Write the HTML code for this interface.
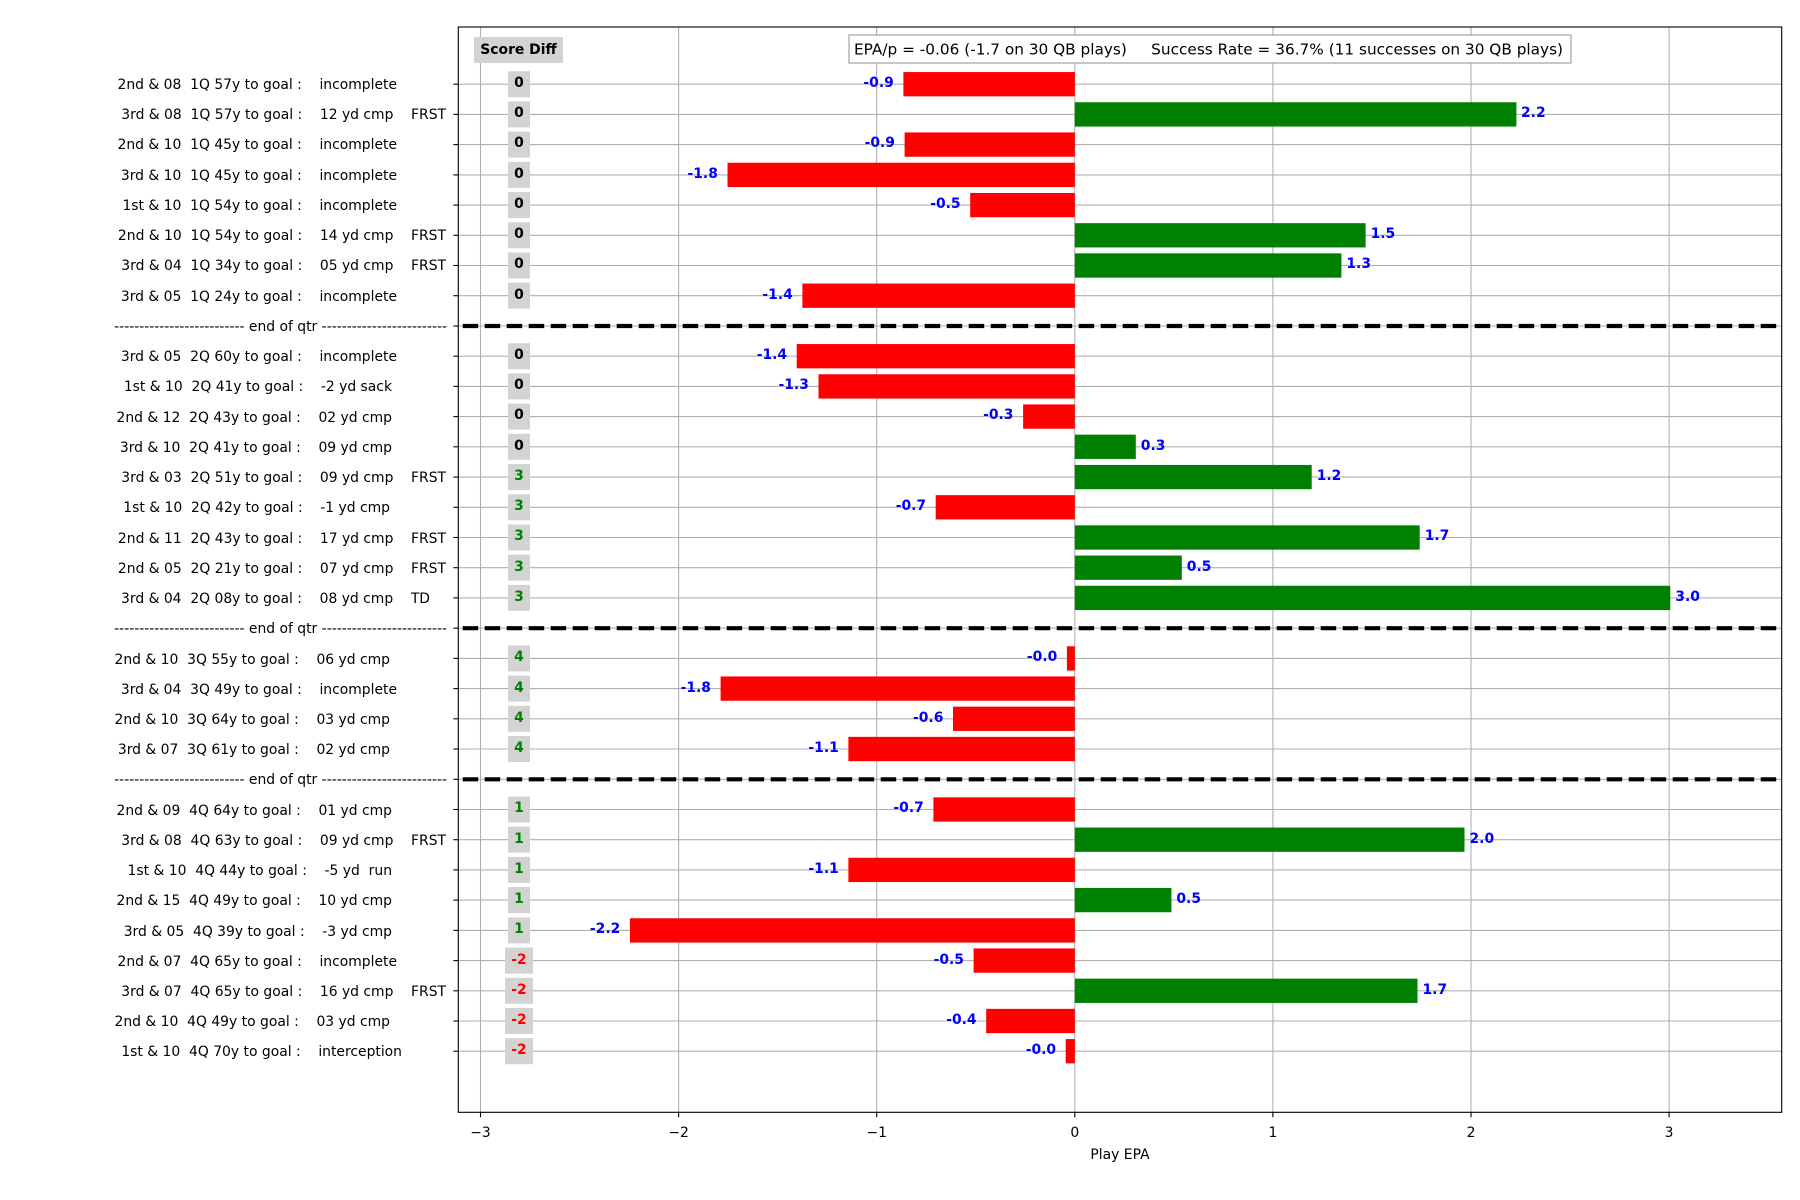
<!DOCTYPE html>
<html><head><meta charset="utf-8"><style>
html,body{margin:0;padding:0;background:#fff;}
svg{display:block;font-family:"DejaVu Sans","Liberation Sans",sans-serif;font-size:13.9px;}
text{white-space:pre;}
.yl{text-anchor:end;dominant-baseline:central;fill:#000;}
.v{font-weight:bold;fill:#0000ff;dominant-baseline:central;}
.sd{font-weight:bold;text-anchor:middle;dominant-baseline:central;}
</style></head><body>
<svg width="1800" height="1200" viewBox="0 0 1800 1200" xmlns="http://www.w3.org/2000/svg">
<rect width="1800" height="1200" fill="#fff"/>
<g stroke="#b0b0b0" stroke-width="1.1">
<line x1="480.5" y1="27" x2="480.5" y2="1112"/><line x1="678.6" y1="27" x2="678.6" y2="1112"/><line x1="876.7" y1="27" x2="876.7" y2="1112"/><line x1="1074.8" y1="27" x2="1074.8" y2="1112"/><line x1="1272.9" y1="27" x2="1272.9" y2="1112"/><line x1="1471" y1="27" x2="1471" y2="1112"/><line x1="1669.1" y1="27" x2="1669.1" y2="1112"/>
<line x1="458" x2="1782" y1="84.2" y2="84.2"/><line x1="458" x2="1782" y1="114.4" y2="114.4"/><line x1="458" x2="1782" y1="144.6" y2="144.6"/><line x1="458" x2="1782" y1="174.9" y2="174.9"/><line x1="458" x2="1782" y1="205.1" y2="205.1"/><line x1="458" x2="1782" y1="235.3" y2="235.3"/><line x1="458" x2="1782" y1="265.5" y2="265.5"/><line x1="458" x2="1782" y1="295.7" y2="295.7"/><line x1="458" x2="1782" y1="326" y2="326"/><line x1="458" x2="1782" y1="356.2" y2="356.2"/><line x1="458" x2="1782" y1="386.4" y2="386.4"/><line x1="458" x2="1782" y1="416.6" y2="416.6"/><line x1="458" x2="1782" y1="446.8" y2="446.8"/><line x1="458" x2="1782" y1="477.1" y2="477.1"/><line x1="458" x2="1782" y1="507.3" y2="507.3"/><line x1="458" x2="1782" y1="537.5" y2="537.5"/><line x1="458" x2="1782" y1="567.7" y2="567.7"/><line x1="458" x2="1782" y1="597.9" y2="597.9"/><line x1="458" x2="1782" y1="628.2" y2="628.2"/><line x1="458" x2="1782" y1="658.4" y2="658.4"/><line x1="458" x2="1782" y1="688.6" y2="688.6"/><line x1="458" x2="1782" y1="718.8" y2="718.8"/><line x1="458" x2="1782" y1="749" y2="749"/><line x1="458" x2="1782" y1="779.3" y2="779.3"/><line x1="458" x2="1782" y1="809.5" y2="809.5"/><line x1="458" x2="1782" y1="839.7" y2="839.7"/><line x1="458" x2="1782" y1="869.9" y2="869.9"/><line x1="458" x2="1782" y1="900.1" y2="900.1"/><line x1="458" x2="1782" y1="930.4" y2="930.4"/><line x1="458" x2="1782" y1="960.6" y2="960.6"/><line x1="458" x2="1782" y1="990.8" y2="990.8"/><line x1="458" x2="1782" y1="1021" y2="1021"/><line x1="458" x2="1782" y1="1051.2" y2="1051.2"/>
</g>
<g>
<rect x="903.4" y="72.05" width="171.4" height="24.3" fill="#ff0000"/>
<rect x="1074.8" y="102.25" width="441.6" height="24.3" fill="#008000"/>
<rect x="904.6" y="132.45" width="170.2" height="24.3" fill="#ff0000"/>
<rect x="727.5" y="162.75" width="347.3" height="24.3" fill="#ff0000"/>
<rect x="970.2" y="192.95" width="104.6" height="24.3" fill="#ff0000"/>
<rect x="1074.8" y="223.15" width="290.8" height="24.3" fill="#008000"/>
<rect x="1074.8" y="253.35" width="266.6" height="24.3" fill="#008000"/>
<rect x="802.4" y="283.55" width="272.4" height="24.3" fill="#ff0000"/>
<rect x="796.7" y="344.05" width="278.1" height="24.3" fill="#ff0000"/>
<rect x="818.5" y="374.25" width="256.3" height="24.3" fill="#ff0000"/>
<rect x="1023.1" y="404.45" width="51.7" height="24.3" fill="#ff0000"/>
<rect x="1074.8" y="434.65" width="61" height="24.3" fill="#008000"/>
<rect x="1074.8" y="464.95" width="236.9" height="24.3" fill="#008000"/>
<rect x="935.7" y="495.15" width="139.1" height="24.3" fill="#ff0000"/>
<rect x="1074.8" y="525.35" width="344.9" height="24.3" fill="#008000"/>
<rect x="1074.8" y="555.55" width="107" height="24.3" fill="#008000"/>
<rect x="1074.8" y="585.75" width="595.5" height="24.3" fill="#008000"/>
<rect x="1066.9" y="646.25" width="7.9" height="24.3" fill="#ff0000"/>
<rect x="720.6" y="676.45" width="354.2" height="24.3" fill="#ff0000"/>
<rect x="953" y="706.65" width="121.8" height="24.3" fill="#ff0000"/>
<rect x="848.4" y="736.85" width="226.4" height="24.3" fill="#ff0000"/>
<rect x="933.4" y="797.35" width="141.4" height="24.3" fill="#ff0000"/>
<rect x="1074.8" y="827.55" width="389.7" height="24.3" fill="#008000"/>
<rect x="848.4" y="857.75" width="226.4" height="24.3" fill="#ff0000"/>
<rect x="1074.8" y="887.95" width="96.6" height="24.3" fill="#008000"/>
<rect x="629.9" y="918.25" width="444.9" height="24.3" fill="#ff0000"/>
<rect x="973.6" y="948.45" width="101.2" height="24.3" fill="#ff0000"/>
<rect x="1074.8" y="978.65" width="342.7" height="24.3" fill="#008000"/>
<rect x="986.2" y="1008.85" width="88.6" height="24.3" fill="#ff0000"/>
<rect x="1065.7" y="1039.05" width="9.1" height="24.3" fill="#ff0000"/>
</g>
<g stroke="#000" stroke-width="4.2" stroke-dasharray="15.5,6.5">
<line x1="462.7" y1="326" x2="1782" y2="326"/>
<line x1="462.7" y1="628.2" x2="1782" y2="628.2"/>
<line x1="462.7" y1="779.3" x2="1782" y2="779.3"/>
</g>
<g class="v">
<text x="863.4" y="83">-0.9</text>
<text x="1521" y="113">2.2</text>
<text x="864.6" y="143">-0.9</text>
<text x="687.5" y="174">-1.8</text>
<text x="930.2" y="204">-0.5</text>
<text x="1370.6" y="234">1.5</text>
<text x="1346.4" y="264">1.3</text>
<text x="762.4" y="295">-1.4</text>
<text x="756.7" y="355">-1.4</text>
<text x="778.5" y="385">-1.3</text>
<text x="983.1" y="415">-0.3</text>
<text x="1140.8" y="446">0.3</text>
<text x="1316.7" y="476">1.2</text>
<text x="895.7" y="506">-0.7</text>
<text x="1424.7" y="536">1.7</text>
<text x="1186.8" y="567">0.5</text>
<text x="1675.3" y="597">3.0</text>
<text x="1026.9" y="657">-0.0</text>
<text x="680.6" y="688">-1.8</text>
<text x="913" y="718">-0.6</text>
<text x="808.4" y="748">-1.1</text>
<text x="893.4" y="808">-0.7</text>
<text x="1469.5" y="839">2.0</text>
<text x="808.4" y="869">-1.1</text>
<text x="1176.4" y="899">0.5</text>
<text x="589.9" y="929">-2.2</text>
<text x="933.6" y="960">-0.5</text>
<text x="1422.5" y="990">1.7</text>
<text x="946.2" y="1020">-0.4</text>
<text x="1025.7" y="1050">-0.0</text>
</g>
<g fill="#d3d3d3">
<rect x="474" y="37" width="89" height="26"/>
<rect x="508" y="71.2" width="22" height="26"/><rect x="508" y="101.4" width="22" height="26"/><rect x="508" y="131.6" width="22" height="26"/><rect x="508" y="161.9" width="22" height="26"/><rect x="508" y="192.1" width="22" height="26"/><rect x="508" y="222.3" width="22" height="26"/><rect x="508" y="252.5" width="22" height="26"/><rect x="508" y="282.7" width="22" height="26"/>
<rect x="508" y="343.2" width="22" height="26"/><rect x="508" y="373.4" width="22" height="26"/><rect x="508" y="403.6" width="22" height="26"/><rect x="508" y="433.8" width="22" height="26"/><rect x="508" y="464.1" width="22" height="26"/><rect x="508" y="494.3" width="22" height="26"/><rect x="508" y="524.5" width="22" height="26"/><rect x="508" y="554.7" width="22" height="26"/><rect x="508" y="584.9" width="22" height="26"/>
<rect x="508" y="645.4" width="22" height="26"/><rect x="508" y="675.6" width="22" height="26"/><rect x="508" y="705.8" width="22" height="26"/><rect x="508" y="736" width="22" height="26"/>
<rect x="508" y="796.5" width="22" height="26"/><rect x="508" y="826.7" width="22" height="26"/><rect x="508" y="856.9" width="22" height="26"/><rect x="508" y="887.1" width="22" height="26"/><rect x="508" y="917.4" width="22" height="26"/>
<rect x="505" y="947.6" width="28" height="26"/><rect x="505" y="977.8" width="28" height="26"/><rect x="505" y="1008" width="28" height="26"/><rect x="505" y="1038.2" width="28" height="26"/>
</g>
<g class="sd">
<text x="518.5" y="50" fill="#000">Score Diff</text>
<text x="519" y="83" fill="#000">0</text><text x="519" y="113" fill="#000">0</text><text x="519" y="143" fill="#000">0</text><text x="519" y="174" fill="#000">0</text><text x="519" y="204" fill="#000">0</text><text x="519" y="234" fill="#000">0</text><text x="519" y="264" fill="#000">0</text><text x="519" y="295" fill="#000">0</text>
<text x="519" y="355" fill="#000">0</text><text x="519" y="385" fill="#000">0</text><text x="519" y="415" fill="#000">0</text><text x="519" y="446" fill="#000">0</text>
<text x="519" y="476" fill="#008000">3</text><text x="519" y="506" fill="#008000">3</text><text x="519" y="536" fill="#008000">3</text><text x="519" y="567" fill="#008000">3</text><text x="519" y="597" fill="#008000">3</text>
<text x="519" y="657" fill="#008000">4</text><text x="519" y="688" fill="#008000">4</text><text x="519" y="718" fill="#008000">4</text><text x="519" y="748" fill="#008000">4</text>
<text x="519" y="808" fill="#008000">1</text><text x="519" y="839" fill="#008000">1</text><text x="519" y="869" fill="#008000">1</text><text x="519" y="899" fill="#008000">1</text><text x="519" y="929" fill="#008000">1</text>
<text x="519" y="960" fill="#ff0000">-2</text><text x="519" y="990" fill="#ff0000">-2</text><text x="519" y="1020" fill="#ff0000">-2</text><text x="519" y="1050" fill="#ff0000">-2</text>
</g>
<rect x="849" y="35" width="722" height="28" fill="#fff" stroke="#999" stroke-width="1.1"/>
<text x="854" y="49.5" style="dominant-baseline:central;font-size:15.3px">EPA/p = -0.06 (-1.7 on 30 QB plays)     Success Rate = 36.7% (11 successes on 30 QB plays)</text>
<rect x="458.3" y="27" width="1323.4" height="1085.3" fill="none" stroke="#000" stroke-width="1.1"/>
<g stroke="#000" stroke-width="1.1">
<line x1="453.4" x2="458.3" y1="84.2" y2="84.2"/><line x1="453.4" x2="458.3" y1="114.4" y2="114.4"/><line x1="453.4" x2="458.3" y1="144.6" y2="144.6"/><line x1="453.4" x2="458.3" y1="174.9" y2="174.9"/><line x1="453.4" x2="458.3" y1="205.1" y2="205.1"/><line x1="453.4" x2="458.3" y1="235.3" y2="235.3"/><line x1="453.4" x2="458.3" y1="265.5" y2="265.5"/><line x1="453.4" x2="458.3" y1="295.7" y2="295.7"/><line x1="453.4" x2="458.3" y1="326" y2="326"/><line x1="453.4" x2="458.3" y1="356.2" y2="356.2"/><line x1="453.4" x2="458.3" y1="386.4" y2="386.4"/><line x1="453.4" x2="458.3" y1="416.6" y2="416.6"/><line x1="453.4" x2="458.3" y1="446.8" y2="446.8"/><line x1="453.4" x2="458.3" y1="477.1" y2="477.1"/><line x1="453.4" x2="458.3" y1="507.3" y2="507.3"/><line x1="453.4" x2="458.3" y1="537.5" y2="537.5"/><line x1="453.4" x2="458.3" y1="567.7" y2="567.7"/><line x1="453.4" x2="458.3" y1="597.9" y2="597.9"/><line x1="453.4" x2="458.3" y1="628.2" y2="628.2"/><line x1="453.4" x2="458.3" y1="658.4" y2="658.4"/><line x1="453.4" x2="458.3" y1="688.6" y2="688.6"/><line x1="453.4" x2="458.3" y1="718.8" y2="718.8"/><line x1="453.4" x2="458.3" y1="749" y2="749"/><line x1="453.4" x2="458.3" y1="779.3" y2="779.3"/><line x1="453.4" x2="458.3" y1="809.5" y2="809.5"/><line x1="453.4" x2="458.3" y1="839.7" y2="839.7"/><line x1="453.4" x2="458.3" y1="869.9" y2="869.9"/><line x1="453.4" x2="458.3" y1="900.1" y2="900.1"/><line x1="453.4" x2="458.3" y1="930.4" y2="930.4"/><line x1="453.4" x2="458.3" y1="960.6" y2="960.6"/><line x1="453.4" x2="458.3" y1="990.8" y2="990.8"/><line x1="453.4" x2="458.3" y1="1021" y2="1021"/><line x1="453.4" x2="458.3" y1="1051.2" y2="1051.2"/>
<line x1="480.5" x2="480.5" y1="1112.3" y2="1117.2"/><line x1="678.6" x2="678.6" y1="1112.3" y2="1117.2"/><line x1="876.7" x2="876.7" y1="1112.3" y2="1117.2"/><line x1="1074.8" x2="1074.8" y1="1112.3" y2="1117.2"/><line x1="1272.9" x2="1272.9" y1="1112.3" y2="1117.2"/><line x1="1471" x2="1471" y1="1112.3" y2="1117.2"/><line x1="1669.1" x2="1669.1" y1="1112.3" y2="1117.2"/>
</g>
<g class="yl">
<text x="397" y="85">2nd &amp; 08  1Q 57y to goal :    incomplete</text>
<text x="446" y="115">3rd &amp; 08  1Q 57y to goal :    12 yd cmp    FRST</text>
<text x="397" y="145">2nd &amp; 10  1Q 45y to goal :    incomplete</text>
<text x="397" y="176">3rd &amp; 10  1Q 45y to goal :    incomplete</text>
<text x="397" y="206">1st &amp; 10  1Q 54y to goal :    incomplete</text>
<text x="446" y="236">2nd &amp; 10  1Q 54y to goal :    14 yd cmp    FRST</text>
<text x="446" y="266">3rd &amp; 04  1Q 34y to goal :    05 yd cmp    FRST</text>
<text x="397" y="297">3rd &amp; 05  1Q 24y to goal :    incomplete</text>
<text x="447" y="327">-------------------------- end of qtr -------------------------</text>
<text x="397" y="357">3rd &amp; 05  2Q 60y to goal :    incomplete</text>
<text x="392" y="387">1st &amp; 10  2Q 41y to goal :    -2 yd sack</text>
<text x="392" y="418">2nd &amp; 12  2Q 43y to goal :    02 yd cmp</text>
<text x="392" y="448">3rd &amp; 10  2Q 41y to goal :    09 yd cmp</text>
<text x="446" y="478">3rd &amp; 03  2Q 51y to goal :    09 yd cmp    FRST</text>
<text x="390" y="508">1st &amp; 10  2Q 42y to goal :    -1 yd cmp</text>
<text x="446" y="539">2nd &amp; 11  2Q 43y to goal :    17 yd cmp    FRST</text>
<text x="446" y="569">2nd &amp; 05  2Q 21y to goal :    07 yd cmp    FRST</text>
<text x="430" y="599">3rd &amp; 04  2Q 08y to goal :    08 yd cmp    TD</text>
<text x="447" y="629">-------------------------- end of qtr -------------------------</text>
<text x="390" y="660">2nd &amp; 10  3Q 55y to goal :    06 yd cmp</text>
<text x="397" y="690">3rd &amp; 04  3Q 49y to goal :    incomplete</text>
<text x="390" y="720">2nd &amp; 10  3Q 64y to goal :    03 yd cmp</text>
<text x="390" y="750">3rd &amp; 07  3Q 61y to goal :    02 yd cmp</text>
<text x="447" y="780">-------------------------- end of qtr -------------------------</text>
<text x="392" y="811">2nd &amp; 09  4Q 64y to goal :    01 yd cmp</text>
<text x="446" y="841">3rd &amp; 08  4Q 63y to goal :    09 yd cmp    FRST</text>
<text x="392" y="871">1st &amp; 10  4Q 44y to goal :    -5 yd  run</text>
<text x="392" y="901">2nd &amp; 15  4Q 49y to goal :    10 yd cmp</text>
<text x="392" y="932">3rd &amp; 05  4Q 39y to goal :    -3 yd cmp</text>
<text x="397" y="962">2nd &amp; 07  4Q 65y to goal :    incomplete</text>
<text x="446" y="992">3rd &amp; 07  4Q 65y to goal :    16 yd cmp    FRST</text>
<text x="390" y="1022">2nd &amp; 10  4Q 49y to goal :    03 yd cmp</text>
<text x="402" y="1052">1st &amp; 10  4Q 70y to goal :    interception</text>
</g>
<g text-anchor="middle">
<text x="480.5" y="1137">−3</text><text x="678.6" y="1137">−2</text><text x="876.7" y="1137">−1</text><text x="1074.8" y="1137">0</text><text x="1272.9" y="1137">1</text><text x="1471" y="1137">2</text><text x="1669.1" y="1137">3</text>
<text x="1120" y="1159">Play EPA</text>
</g>
</svg>
</body></html>
